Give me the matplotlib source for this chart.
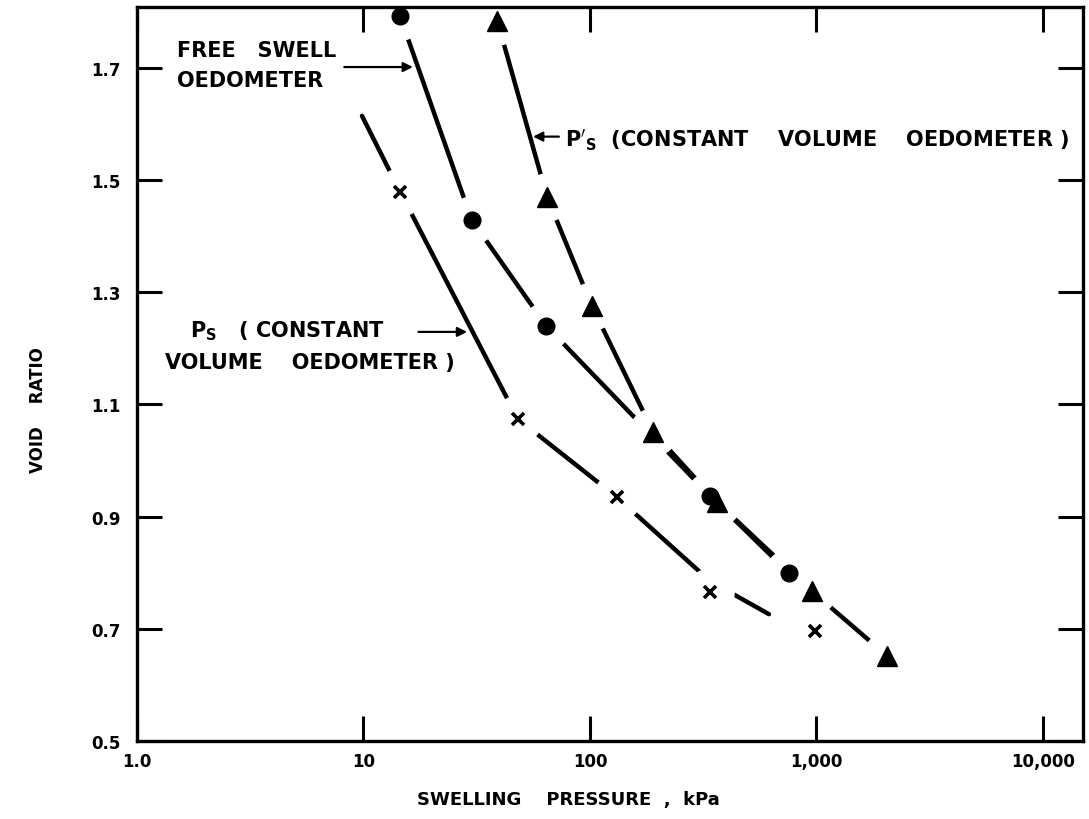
import numpy as np
import matplotlib
matplotlib.use("Agg")
import matplotlib.pyplot as plt

plt.rcParams['font.family'] = ['DejaVu Sans']
plt.rcParams['mathtext.fontset'] = 'dejavusans'
plt.rcParams['mathtext.default'] = 'bf'

# free swell oedometer (circles)
fs_p = [14.5, 30, 64, 339, 757]
fs_e = [1.792, 1.429, 1.240, 0.937, 0.799]
# P's constant volume oedometer (triangles)
cv_p = [39, 64.6, 102, 190, 363, 955, 2047]
cv_e = [1.783, 1.470, 1.275, 1.051, 0.926, 0.767, 0.652]
# Ps constant volume oedometer (crosses)
x_p = [14.5, 48, 131, 339, 985]
x_e = [1.479, 1.074, 0.935, 0.765, 0.696]

# hand drawn curves
fs_line_p = [14.5, 30, 64, 339, 757]
fs_line_e = [1.792, 1.429, 1.240, 0.937, 0.799]
cv_line_p = [39, 64.6, 102, 190, 363, 757, 955, 2047]
cv_line_e = [1.783, 1.470, 1.275, 1.051, 0.926, 0.805, 0.767, 0.652]
x_line_p = [9.85, 14.5, 48, 131, 339, 617]
x_line_e = [1.614, 1.479, 1.074, 0.935, 0.785, 0.726]

x_ticks = [1, 10, 100, 1000, 10000]
x_labels = ["1.0", "10", "100", "1,000", "10,000"]
y_ticks = [0.5, 0.7, 0.9, 1.1, 1.3, 1.5, 1.7]
y_labels = ["0.5", "0.7", "0.9", "1.1", "1.3", "1.5", "1.7"]

fig = plt.figure(figsize=(10.89, 8.2), dpi=100)
ax = fig.add_axes([137 / 1089, 1 - 742 / 820, (1083 - 137) / 1089, (742 - 8) / 820])
ax.set_xscale("log")
ax.set_xlim(1, 15030)
ax.set_ylim(0.5, 1.808)

lw = 3.2
for px, py in [(fs_line_p, fs_line_e), (cv_line_p, cv_line_e), (x_line_p, x_line_e)]:
    ax.plot(px, py, color="black", lw=lw, solid_capstyle="round", zorder=2)

# white halos give the gaps around the symbols
for px, py in [(fs_p, fs_e), (cv_p, cv_e), (x_p, x_e)]:
    ax.plot(px, py, "o", ms=34, color="white", mec="white", ls="none", zorder=3)

ax.plot(fs_p, fs_e, "o", ms=12, color="black", ls="none", zorder=4)
ax.plot(cv_p, cv_e, "^", ms=14, color="black", ls="none", zorder=4)
ax.plot(x_p, x_e, "x", ms=9, mew=2.6, color="black", ls="none", zorder=4)

ax.set_xticks(x_ticks)
ax.set_xticklabels(x_labels)
ax.xaxis.set_minor_locator(matplotlib.ticker.NullLocator())
ax.set_yticks(y_ticks)
ax.set_yticklabels(y_labels)
ax.tick_params(axis="both", which="major", direction="in", length=18, width=2.2,
               top=True, right=True, labelsize=12)
ax.tick_params(axis="y", pad=12)
ax.tick_params(axis="x", pad=8)
for lab in ax.get_xticklabels() + ax.get_yticklabels():
    lab.set_fontweight("bold")
for s in ax.spines.values():
    s.set_linewidth(2.4)
    s.set_zorder(6)

tkw = dict(fontsize=15, fontweight="bold", color="black")
akw = dict(arrowstyle="-|>", color="black", lw=1.6, mutation_scale=14)

ax.text(0.042, 0.941, "FREE   SWELL", transform=ax.transAxes, ha="left", va="center", **tkw)
ax.text(0.042, 0.900, "OEDOMETER", transform=ax.transAxes, ha="left", va="center", **tkw)
ax.annotate("", xy=(17.0, 1.701), xytext=(8.0, 1.701), arrowprops=akw)

ax.text(0.452, 0.820, r"$P'_S$  (CONSTANT    VOLUME    OEDOMETER )",
        transform=ax.transAxes, ha="left", va="center", **tkw)
ax.annotate("", xy=(54.5, 1.577), xytext=(75, 1.577), arrowprops=akw)

ax.text(0.056, 0.559, r"$P_S$   ( CONSTANT", transform=ax.transAxes,
        ha="left", va="center", **tkw)
ax.annotate("", xy=(29.5, 1.229), xytext=(17.0, 1.229), arrowprops=akw)
ax.text(0.030, 0.516, "VOLUME    OEDOMETER )", transform=ax.transAxes,
        ha="left", va="center", **tkw)

fig.text(38 / 1089, 1 - 410 / 820, "VOID    RATIO", rotation=90, ha="center", va="center",
         fontsize=12, fontweight="bold")
fig.text(568 / 1089, 1 - 800 / 820, "SWELLING    PRESSURE  ,  kPa", ha="center", va="center",
         fontsize=13, fontweight="bold")

fig.savefig("out.png", dpi=100)
